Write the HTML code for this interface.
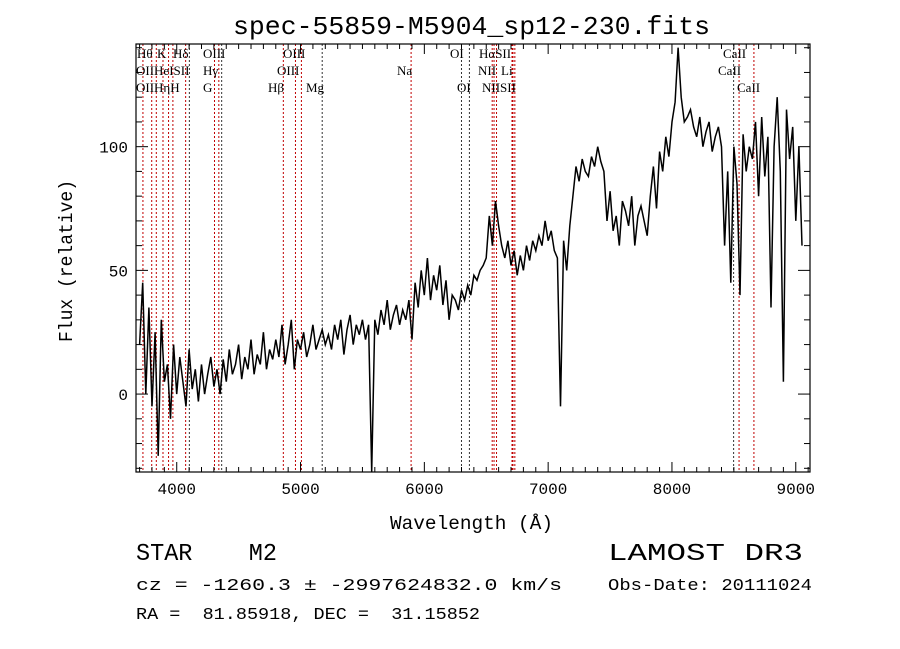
<!DOCTYPE html>
<html><head><meta charset="utf-8"><style>
html,body{margin:0;padding:0;background:#fff;}
svg{display:block;font-family:"Liberation Mono",monospace;}
svg text{white-space:pre;}
.lab{font-family:"Liberation Serif",serif;font-size:13px;fill:#000;}
</style></head><body>
<svg id="chart" width="900" height="649" viewBox="0 0 900 649" xmlns="http://www.w3.org/2000/svg" xml:space="preserve">
<rect width="900" height="649" fill="#fff"/>
<text x="233" y="34" font-size="26" textLength="477" lengthAdjust="spacingAndGlyphs">spec-55859-M5904_sp12-230.fits</text>
<g id="lines"></g>
<g id="labels"></g>
<path id="spec" fill="none" stroke="#000" stroke-width="1.5"/>
<g id="axes"></g>
<rect x="136" y="44" width="674" height="428" fill="none" stroke="#000" stroke-width="1.2"/>
<text x="390" y="529" font-size="19" textLength="163" lengthAdjust="spacingAndGlyphs">Wavelength (Å)</text>
<text transform="translate(72,342) rotate(-90)" font-size="19" textLength="162" lengthAdjust="spacingAndGlyphs">Flux (relative)</text>
<text x="136" y="560" font-size="24" textLength="141" lengthAdjust="spacingAndGlyphs">STAR    M2</text>
<text x="608" y="560" font-size="24" textLength="195" lengthAdjust="spacingAndGlyphs">LAMOST DR3</text>
<text x="136" y="590" font-size="17" textLength="426" lengthAdjust="spacingAndGlyphs">cz = -1260.3 ± -2997624832.0 km/s</text>
<text x="608" y="590" font-size="17" textLength="204" lengthAdjust="spacingAndGlyphs">Obs-Date: 20111024</text>
<text x="136" y="619" font-size="17" textLength="344" lengthAdjust="spacingAndGlyphs">RA =  81.85918, DEC =  31.15852</text>
</svg>
<script>
const startWave = 3700;
const stepWave = 25;
const flux = [
20,45,0,35,-5,25,-25,30,5,
12,-10,20,0,15,5,-5,18,2,10,-3,12,0,8,15,3,
10,0,14,5,18,8,12,20,6,15,10,22,8,16,12,25,10,18,14,22,
15,28,12,20,30,10,22,18,25,15,20,28,18,22,26,20,
24,18,28,22,30,16,26,32,20,28,24,30,22,28,-40,
30,24,34,28,38,26,32,36,28,34,30,38,
22,45,35,50,40,55,38,48,42,52,36,46,30,40,38,34,42,
38,44,40,48,46,50,52,55,
72,60,78,68,
60,55,62,52,58,48,56,50,60,54,62,58,
64,60,70,62,66,58,55,
-5,
62,50,68,80,92,86,95,90,88,96,92,100,94,90,70,82,
66,72,60,78,74,68,80,60,72,76,70,64,
80,92,75,98,90,104,96,110,118,
140,
120,110,112,115,108,104,112,100,106,110,98,104,108,100,
60,90,45,100,85,40,105,90,
100,95,110,80,112,88,104,35,100,120,90,5,115,95,108,70,100,60
];
const lineWaves = [3727,3798,3835,3889,3934,3969,4072,4102,4305,4340,4363,4861,4959,5007,5175,5893,6300,6364,6548,6563,6583,6708,6716,6731,8498,8542,8662];
const lineDark = [0,0,0,0,0,0,0,1,0,0,1,0,0,0,1,0,1,1,0,0,0,0,0,0,1,0,0];
const xTicks = [4000,5000,6000,7000,8000,9000];
const yTicks = [0,50,100];
const labelRows = [
 [["Hθ",137,1],["K",157,1],["Hδ",173,1],["OIII",203,1],["OIII",283,1],["OI",450,1],["HαSII",479,1],["CaII",723,1]],
 [["OIIHeISII",136,2],["Hγ",203,2],["OIII",277,2],["Na",397,2],["NII",478,2],["Li",501,2],["CaII",718,2]],
 [["OIIHηH",136,3],["G",203,3],["Hβ",268,3],["Mg",306,3],["OI",457,3],["NIISII",482,3],["CaII",737,3]]
];
const L=136,R=810,T=44,B=472;
const X0=3671,X1=9115,Y0=-31.5,Y1=141.5;
const sx=w=>L+(w-X0)/(X1-X0)*(R-L);
const sy=v=>B-(v-Y0)/(Y1-Y0)*(B-T);
const clampY=y=>Math.max(T,Math.min(B,y));
const NS="http://www.w3.org/2000/svg";
function mk(tag,attrs,parent){const e=document.createElementNS(NS,tag);for(const k in attrs)e.setAttribute(k,attrs[k]);parent.appendChild(e);return e;}
let d="";
flux.forEach((v,i)=>{const x=sx(startWave+i*stepWave),y=clampY(sy(v));d+=(i?"L":"M")+x.toFixed(1)+","+y.toFixed(1);});
document.getElementById('spec').setAttribute('d',d);
const gl=document.getElementById('lines');
lineWaves.forEach((w,i)=>{
 const x=sx(w);
 const ln=mk('line',{x1:x,x2:x,y1:T,y2:B,stroke:lineDark[i]?'#333':'#c00000','stroke-width':1,'stroke-dasharray':'2,2'},gl);
 
 
});
const glab=document.getElementById('labels');
labelRows.forEach(row=>row.forEach(([t,x,r])=>{
 const e=mk('text',{x:x,y:T+17*r-3,class:'lab'},glab);
 e.textContent=t;
 
 
}));
const ga=document.getElementById('axes');
for(let w=3700;w<=9100;w+=100){
 const x=sx(w),maj=w%1000===0,len=maj?10:5;
 mk('line',{x1:x,x2:x,y1:B,y2:B-len,stroke:'#000'},ga);
 mk('line',{x1:x,x2:x,y1:T,y2:T+len,stroke:'#000'},ga);
}
xTicks.forEach(w=>{
 const e=mk('text',{x:sx(w),y:B+22,'font-size':16,'text-anchor':'middle'},ga);
 e.textContent=w;
 
 
});
for(let v=-30;v<=140;v+=10){
 const y=sy(v),maj=v%50===0,len=maj?12:6;
 mk('line',{x1:L,x2:L+len,y1:y,y2:y,stroke:'#000'},ga);
 mk('line',{x1:R,x2:R-len,y1:y,y2:y,stroke:'#000'},ga);
}
yTicks.forEach(v=>{
 const e=mk('text',{x:L-8,y:sy(v)+6,'font-size':16,'text-anchor':'end'},ga);
 e.textContent=v;
 
 
});
</script>
</body></html>
